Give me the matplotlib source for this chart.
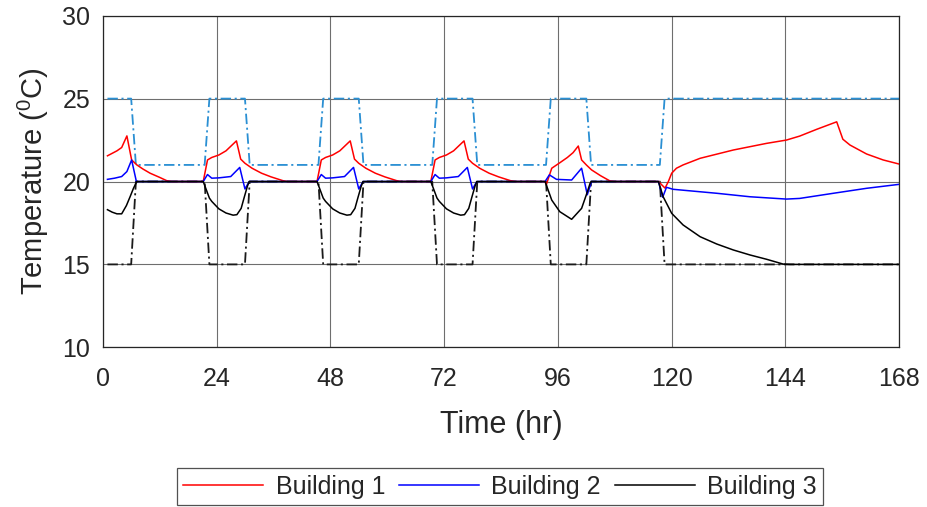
import matplotlib
matplotlib.use("Agg")
import matplotlib.pyplot as plt

plt.rcParams['font.family'] = ['Liberation Sans', 'DejaVu Sans']
plt.rcParams['lines.scale_dashes'] = False

# ---------------- data ----------------
x_ticks = [0, 24, 48, 72, 96, 120, 144, 168]
y_ticks = [10, 15, 20, 25, 30]

sp_time = [1, 6, 7, 21.5, 22.5, 30, 31, 45.5, 46.5, 54, 55, 69.5, 70.5, 78, 79,
           93.5, 94.5, 102, 103, 117.5, 118.5, 168]
sp_upper = [25, 25, 21, 21, 25, 25, 21, 21, 25, 25, 21, 21, 25, 25, 21,
            21, 25, 25, 21, 21, 25, 25]
sp_lower = [15, 15, 20, 20, 15, 15, 20, 20, 15, 15, 20, 20, 15, 15, 20,
            20, 15, 15, 20, 20, 15, 15]

b1_time = [1, 2, 3, 4, 5.1, 6.1, 7.2, 8.5, 10, 12, 13.5, 14.5,
           21.2, 22.1, 23, 24.5, 26, 28.2, 29.1, 30, 31.5, 33.5, 35.5, 38, 39,
           45.2, 46.1, 47, 48.5, 50, 52.2, 53.1, 54, 55.5, 57.5, 59.5, 62, 63,
           69.2, 70.1, 71, 72.5, 74, 76.2, 77.1, 78, 79.5, 81.5, 83.5, 86, 87,
           93.2, 93.6, 94.7, 96.4, 98, 99.2, 100.3, 101, 102, 103.1, 105, 107, 108,
           117.2, 118.6, 119.3, 120, 121, 122.4, 126, 133, 140, 144.2, 147, 150.6,
           154.8, 156.1, 157.6, 161.1, 164.6, 168]
b1_temp = [21.55, 21.7, 21.85, 22.05, 22.75, 21.3, 21.0, 20.75, 20.5, 20.25, 20.05, 20.0,
           20.0, 21.3, 21.45, 21.6, 21.85, 22.45, 21.35, 21.1, 20.8, 20.5, 20.28, 20.05, 20.0,
           20.0, 21.3, 21.45, 21.6, 21.85, 22.45, 21.35, 21.1, 20.8, 20.5, 20.28, 20.05, 20.0,
           20.0, 21.3, 21.45, 21.6, 21.85, 22.45, 21.35, 21.1, 20.8, 20.5, 20.28, 20.05, 20.0,
           20.0, 19.85, 20.8, 21.13, 21.45, 21.74, 22.14, 21.3, 21.0, 20.7, 20.35, 20.03, 20.0,
           20.0, 19.6, 20.0, 20.5, 20.8, 21.0, 21.4, 21.9, 22.3, 22.5, 22.74, 23.15,
           23.6, 22.55, 22.2, 21.66, 21.3, 21.05]

b2_time = [1, 2.5, 4, 5.1, 6.1, 7.1,
           21.2, 22.1, 23, 24.5, 27, 28.9, 30, 30.9,
           45.2, 46.1, 47, 48.5, 51, 52.9, 54, 54.9,
           69.2, 70.1, 71, 72.5, 75, 76.9, 78, 78.9,
           93.3, 94.2, 95.7, 98.9, 101, 102.2, 103.1,
           117.2, 118.1, 118.9, 120.3, 129.5, 136.5, 144.2, 147, 154.1, 161.1, 168]
b2_temp = [20.13, 20.2, 20.3, 20.6, 21.3, 20.0,
           20.0, 20.42, 20.2, 20.22, 20.3, 20.85, 19.55, 20.0,
           20.0, 20.42, 20.2, 20.22, 20.3, 20.85, 19.55, 20.0,
           20.0, 20.42, 20.2, 20.22, 20.3, 20.85, 19.55, 20.0,
           20.0, 20.4, 20.13, 20.09, 20.8, 19.2, 20.0,
           20.0, 19.05, 19.65, 19.53, 19.29, 19.08, 18.94, 18.98, 19.29, 19.59, 19.83]

b3_time = [1, 2, 3, 4, 5, 5.8, 6.5, 7.2,
           21.2, 22.5, 23, 24.5, 26, 27.5, 28.3, 29.2, 29.8, 30.5, 30.9,
           45.2, 46.5, 47, 48.5, 50, 51.5, 52.3, 53.2, 53.8, 54.5, 54.9,
           69.2, 70.5, 71, 72.5, 74, 75.5, 76.3, 77.2, 77.8, 78.5, 78.9,
           93.3, 94.7, 96.4, 98.9, 101, 102, 102.8, 103.1,
           117.2, 118.2, 120, 122.4, 126, 129.5, 133, 136.5, 140, 143.5, 145, 168]
b3_temp = [18.3, 18.15, 18.05, 18.05, 18.55, 19.1, 19.6, 20.0,
           20.0, 19.0, 18.8, 18.35, 18.1, 17.97, 18.0, 18.38, 19.0, 19.7, 20.0,
           20.0, 19.0, 18.8, 18.35, 18.1, 17.97, 18.0, 18.38, 19.0, 19.7, 20.0,
           20.0, 19.0, 18.8, 18.35, 18.1, 17.97, 18.0, 18.38, 19.0, 19.7, 20.0,
           20.0, 18.88, 18.18, 17.72, 18.38, 19.2, 19.9, 20.0,
           20.0, 19.08, 18.08, 17.38, 16.67, 16.23, 15.87, 15.57, 15.31, 15.02, 15.0, 15.0]

series_labels = ['Building 1', 'Building 2', 'Building 3']

# ---------------- figure ----------------
fig = plt.figure(figsize=(9.27, 5.07), dpi=100)
ax = fig.add_axes([0.1108, 0.315, 0.8593, 0.654])

text_color = '#262626'
dd = (7.5, 2.6, 1.5, 2.6)

ax.plot(sp_time, sp_upper, color='#2a8fd3', lw=1.3, dashes=dd, zorder=2)
ax.plot(sp_time, sp_lower, color='#1a1a1a', lw=1.3, dashes=dd, zorder=2)
l1, = ax.plot(b1_time, b1_temp, color='#ff0000', lw=1.1, zorder=3)
l2, = ax.plot(b2_time, b2_temp, color='#0000ff', lw=1.1, zorder=4)
l3, = ax.plot(b3_time, b3_temp, color='#000000', lw=1.1, zorder=5)

ax.set_xlim(0, 168)
ax.set_ylim(10, 30)
ax.set_xticks(x_ticks)
ax.set_yticks(y_ticks)
ax.grid(True, color='#6e6e6e', lw=0.8, zorder=0)
ax.set_axisbelow(True)
ax.tick_params(axis='both', direction='in', length=0, labelsize=18, colors=text_color)
ax.tick_params(axis='x', pad=14)
ax.tick_params(axis='y', pad=9)
for sp in ax.spines.values():
    sp.set_color('#262626')
    sp.set_linewidth(0.9)

ax.set_xlabel('Time (hr)', fontsize=22, color=text_color, labelpad=14)
ax.set_ylabel(r'Temperature ($\mathregular{^0}$C)', fontsize=21, color=text_color, labelpad=8)

leg = fig.legend([l1, l2, l3], series_labels, loc='center', ncol=3,
                 bbox_to_anchor=(0.5394, 0.0404), fontsize=18, frameon=True,
                 fancybox=False, edgecolor='#262626', handlelength=3.2,
                 columnspacing=0.55, handletextpad=0.5, borderpad=0.25)
leg.get_frame().set_linewidth(0.9)
for t in leg.get_texts():
    t.set_color(text_color)

fig.savefig('out.png', dpi=100)
